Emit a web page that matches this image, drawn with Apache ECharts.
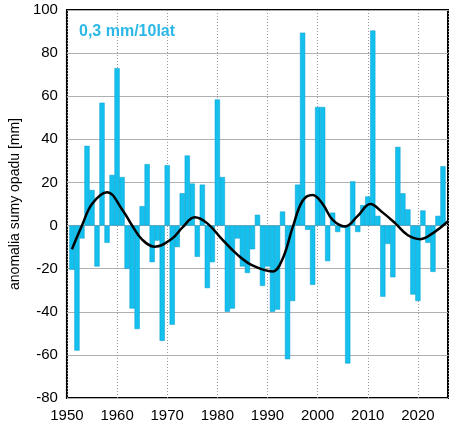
<!DOCTYPE html>
<html>
<head>
<meta charset="utf-8">
<script src="https://cdn.jsdelivr.net/npm/echarts@6/dist/echarts.min.js"></script>
<style>
  html, body { margin: 0; padding: 0; background: #fff; }
  #chart { width: 455px; height: 425px; }
</style>
</head>
<body>
<div id="chart"></div>
<script>
// lata i anomalie sumy opadu [mm]
const firstYear = 1951;
const anomalies = [
  -20.5, -58, -6, 37, 16.5, -19, 57, -8, 23.5, 73,
  22.5, -20, -38.5, -48, 9, 28.5, -17, -7, -53.5, 28,
  -46, -10, 15, 32.5, 19.5, -14.5, 19, -29, -17, 58.5,
  22.5, -40, -38.5, -6, -19, -22, -11, 5, -28, -19,
  -40, -39, 6.5, -62, -35, 19, 89.5, -2, -27.5, 55,
  55, -16.5, 6, -3, -1, -64, 20.5, -3, 9.5, 13.5,
  90.5, 4.5, -33, -8.5, -24, 36.5, 15, 7.5, -32, -35,
  7, -8, -21.5, 4.5, 27.5
];
// wygladzona krzywa (odczyt z wykresu)
const smoothYears = [1951, 1953, 1955, 1958, 1961, 1963, 1965, 1967.5,
  1971, 1973, 1975.5, 1978, 1981, 1984, 1987, 1991,
  1993, 1995, 1997, 1999, 2001, 2003, 2005.5, 2008, 2010.5,
  2013, 2015.5, 2018, 2020.5, 2023, 2026];
const smoothVals = [-11, 0, 10, 15.5, 7.5, 0, -6.5, -9.8,
  -6, -1, 3.8, 1, -6.5, -13.5, -18.5, -21.3,
  -15.5, -1, 11.5, 14.2, 10, 2.6, -0.4, 4.5, 10,
  6, 1, -4.5, -6.3, -3.5, 2];
const trendLabel = '0,3 mm/10lat';
const yName = 'anomalia sumy opadu [mm]';

const barData = anomalies.map((v, i) => [firstYear + i, v]);
const lineData = smoothYears.map((y, i) => [y, smoothVals[i]]);

const chart = echarts.init(document.getElementById('chart'));
const font = 'Liberation Sans, Arial, sans-serif';

chart.setOption({
  animation: false,
  backgroundColor: '#fff',
  title: {
    text: trendLabel,
    left: 74,
    top: 19,
    textStyle: { color: '#2bb8e6', fontSize: 16, fontWeight: 'bold', fontFamily: font }
  },
  grid: {
    left: 56, right: 7, top: 10, bottom: 27,
    show: true, borderColor: '#000', borderWidth: 2, backgroundColor: 'transparent'
  },
  xAxis: {
    type: 'value',
    min: 1950, max: 2026, interval: 10,
    axisLine: { show: false },
    axisTick: { show: false },
    axisLabel: {
      color: '#000', fontSize: 15, fontFamily: font, margin: 10,
      showMaxLabel: false,
      formatter: v => String(v)
    },
    splitLine: { show: true, lineStyle: { color: '#999', type: [1, 2], width: 1 } }
  },
  yAxis: {
    type: 'value',
    min: -80, max: 100, interval: 20,
    name: yName,
    nameLocation: 'middle',
    nameGap: 39,
    nameTextStyle: { color: '#000', fontSize: 14, fontFamily: font },
    axisLine: { show: false },
    axisTick: { show: false },
    axisLabel: { color: '#000', fontSize: 15, fontFamily: font, margin: 9 },
    splitLine: { show: true, lineStyle: { color: '#b0b0b0', width: 1 } }
  },
  series: [{
    type: 'bar',
    data: barData,
    barWidth: 5.2,
    itemStyle: { color: '#13c0ee', borderColor: '#0a9ccc', borderWidth: 0.5 },
    z: 2
  }, {
    type: 'line',
    data: lineData,
    smooth: 0.4,
    showSymbol: false,
    lineStyle: { color: '#000', width: 2.5 },
    z: 3
  }]
});
</script>
</body>
</html>
